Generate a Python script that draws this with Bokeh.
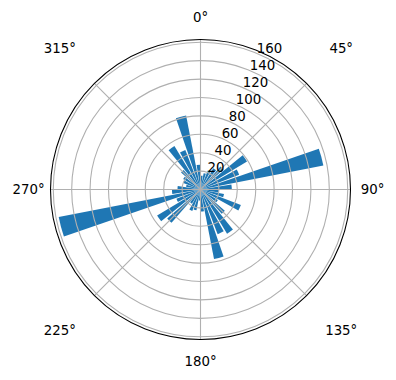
import numpy as np
from bokeh.plotting import figure
from bokeh.models import Range1d
from bokeh.core.properties import value
from bokeh.embed import file_html
from bokeh.resources import INLINE

# --- data ---
bin_centers_deg = [5, 15, 25, 35, 45, 55, 65, 75, 85, 95, 105, 115,
                   125, 135, 145, 155, 165, 175, 185, 195, 205, 215, 225, 235,
                   245, 255, 265, 275, 285, 295, 305, 315, 325, 335, 345, 355]
counts = [15, 18, 22, 27, 33, 59, 45, 136, 34, 20, 26, 47,
          22, 35, 56, 52, 77, 24, 12, 23, 25, 18, 48, 55,
          28, 157, 31, 25, 16, 20, 22, 28, 55, 46, 82, 27]
r_ticks = [20, 40, 60, 80, 100, 120, 140, 160]
r_tick_labels = ["20", "40", "60", "80", "100", "120", "140", "160"]
theta_ticks_deg = [0, 45, 90, 135, 180, 225, 270, 315]
theta_tick_labels = ["0°", "45°", "90°", "135°", "180°", "225°", "270°", "315°"]

# --- layout ---
W, H = 396, 380
cx, cy = 200, 189          # centre in pixels (from top-left)
R_PX = 150                 # outer circle radius in pixels
rmax = 163.0
s = R_PX / rmax            # px per data unit
bar_width_deg = 8.0
FONT = value("DejaVu Sans")

p = figure(width=W, height=H, output_backend="svg", toolbar_location=None,
           x_range=Range1d(-cx / s, (W - cx) / s),
           y_range=Range1d(-(H - cy) / s, cy / s),
           min_border=0)
p.axis.visible = False
p.grid.visible = False
p.outline_line_color = None
p.background_fill_color = "white"
p.border_fill_color = "white"

c = np.array(bin_centers_deg, dtype=float)
start = np.radians(90 - (c + bar_width_deg / 2))
end = np.radians(90 - (c - bar_width_deg / 2))
p.wedge(x=0, y=0, radius=counts, start_angle=start, end_angle=end,
        direction="anticlock", fill_color="#1f77b4", line_color=None)

# grid (drawn above bars as in matplotlib)
grid_col = "#b0b0b0"
p.circle(x=[0] * len(r_ticks), y=[0] * len(r_ticks), radius=r_ticks,
         fill_color=None, line_color=grid_col, line_width=1.1)
th = np.radians(theta_ticks_deg)
p.segment(x0=0, y0=0, x1=rmax * np.sin(th), y1=rmax * np.cos(th),
          line_color=grid_col, line_width=1.1)
p.circle(x=[0], y=[0], radius=[rmax], fill_color=None,
         line_color="black", line_width=1.1)

# radial labels along 22.5 degrees
ra = np.radians(22.5)
rt = np.array(r_ticks, dtype=float)
p.text(x=rt * np.sin(ra), y=rt * np.cos(ra), text=r_tick_labels,
       text_align="left", text_baseline="bottom", text_font=FONT,
       text_font_size="13.33px", text_color="black")

# angular labels
lab_r_px = np.array([172 if d % 90 == 0 else 199 for d in theta_ticks_deg], dtype=float)
lab_r = lab_r_px / s
p.text(x=lab_r * np.sin(th), y=lab_r * np.cos(th), text=theta_tick_labels,
       text_align="center", text_baseline="middle", text_font=FONT,
       text_font_size="13.33px", text_color="black")

open("out.html", "w").write(file_html(p, INLINE))
